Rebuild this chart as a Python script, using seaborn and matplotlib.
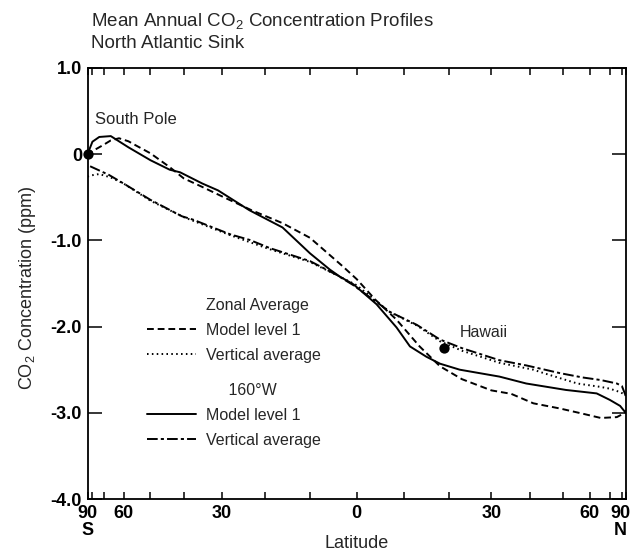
import numpy as np
import pandas as pd
import matplotlib
matplotlib.use("Agg")
import matplotlib.pyplot as plt
from matplotlib.lines import Line2D
from matplotlib.transforms import ScaledTranslation
import seaborn as sns

# ---------------- data (latitude in degrees, CO2 anomaly in ppm) ----------------
lat_zonal_lvl1 = [-90, -80, -70, -66, -62, -58, -55, -50, -44, -40, -35, -30, -23, -16,
                  -10, -3, 0, 4, 8.5, 13.5, 18, 23, 30, 35, 41, 49, 57, 65, 75, 85, 90]
val_zonal_lvl1 = [-0.02, 0.03, 0.11, 0.16, 0.185, 0.15, 0.10, 0.01, -0.15, -0.28, -0.38,
                  -0.49, -0.65, -0.80, -0.97, -1.30, -1.45, -1.69, -1.92, -2.23, -2.46,
                  -2.61, -2.74, -2.78, -2.89, -2.95, -3.01, -3.06, -3.05, -3.00, -2.97]

lat_zonal_vavg = [-90, -80, -73, -66, -60, -50, -40, -28, -19, -10, -4, 0, 7, 13, 18, 23,
                  32, 41, 44, 55, 65, 70, 78, 85, 90]
val_zonal_vavg = [-0.26, -0.245, -0.23, -0.27, -0.34, -0.54, -0.73, -0.94, -1.10, -1.25,
                  -1.41, -1.52, -1.83, -1.99, -2.17, -2.28, -2.42, -2.50, -2.54, -2.66,
                  -2.70, -2.72, -2.76, -2.79, -2.80]

lat_160w_lvl1 = [-90, -79, -73, -66, -58, -50, -44, -41, -35, -31, -23.5, -16, -10, -5.7,
                 -3.6, -0.7, 4.2, 8.5, 11.4, 15, 18, 22.5, 32, 39, 51, 63, 70, 78, 85, 90]
val_160w_lvl1 = [0.0, 0.145, 0.20, 0.21, 0.08, -0.07, -0.18, -0.21, -0.34, -0.42, -0.65,
                 -0.85, -1.15, -1.34, -1.42, -1.51, -1.74, -2.01, -2.23, -2.35, -2.43,
                 -2.50, -2.58, -2.66, -2.735, -2.775, -2.85, -2.92, -2.99, -3.00]

lat_160w_vavg = [-82, -67, -60, -50, -40.5, -37.4, -28, -23.4, -18.8, -10, -4.3, -0.7, 7.1,
                 12.9, 18, 23, 32, 39, 49, 57, 65, 75, 80, 85, 90]
val_160w_vavg = [-0.14, -0.24, -0.34, -0.53, -0.72, -0.76, -0.93, -0.995, -1.09, -1.24,
                 -1.40, -1.52, -1.83, -1.98, -2.15, -2.25, -2.39, -2.45, -2.54, -2.59,
                 -2.62, -2.66, -2.69, -2.78, -2.82]

station_names = ["South Pole", "Hawaii"]
station_lat = [-90, 19]
station_val = [0.0, -2.25]

series_names = ["Zonal model level 1", "Zonal vertical average",
                "160W model level 1", "160W vertical average"]
group_titles = ["Zonal Average", "160°W"]
legend_labels = ["Model level 1", "Vertical average", "Model level 1", "Vertical average"]

lat_major = [-90, -60, -30, 0, 30, 60, 90]
lat_major_labels = ["90\nS", "60", "30", "0", "30", "60", "90\nN"]
lat_minor = list(range(-90, 91, 10))
y_ticks = [1.0, 0.0, -1.0, -2.0, -3.0, -4.0]
y_tick_labels = ["1.0", "0", "-1.0", "-2.0", "-3.0", "-4.0"]

# ---------------- styling ----------------
sns.set_style("ticks")
plt.rcParams["font.family"] = ["Liberation Sans", "DejaVu Sans"]
plt.rcParams["mathtext.fontset"] = "custom"
plt.rcParams["mathtext.rm"] = "Liberation Sans"
plt.rcParams["mathtext.it"] = "Liberation Sans"
plt.rcParams["mathtext.bf"] = "Liberation Sans:bold"

dash_map = {
    series_names[0]: (3.5, 2.0),
    series_names[1]: (0.8, 1.7),
    series_names[2]: "",
    series_names[3]: (5.5, 1.6, 1.6, 1.6),
}

frames = []
for name, la, va in zip(series_names,
                        [lat_zonal_lvl1, lat_zonal_vavg, lat_160w_lvl1, lat_160w_vavg],
                        [val_zonal_lvl1, val_zonal_vavg, val_160w_lvl1, val_160w_vavg]):
    frames.append(pd.DataFrame({"series": name,
                                "x": np.sin(np.radians(la)),
                                "val": va}))
df = pd.concat(frames, ignore_index=True)

W, H = 634, 556
fig = plt.figure(figsize=(W / 100, H / 100), dpi=100)
L, R, T, B = 87.5, 626, 68, 499
ax = fig.add_axes([L / W, 1 - B / H, (R - L) / W, (B - T) / H])

lw = 1.4
sns.lineplot(data=df, x="x", y="val", style="series", style_order=series_names,
             dashes=dash_map, color="black", linewidth=lw, sort=False,
             estimator=None, legend=False, ax=ax)

sns.scatterplot(x=np.sin(np.radians(station_lat)), y=station_val, color="black",
                s=55, edgecolor="black", linewidth=0, zorder=5, legend=False, ax=ax)
ax.collections[-1].set_clip_on(False)

ax.text(np.sin(np.radians(-76.5)), 0.40, station_names[0], fontsize=12,
        ha="left", va="center")
ax.text(np.sin(np.radians(22.5)), -2.07, station_names[1], fontsize=11.5,
        ha="left", va="center")

ax.set_xlim(-1, 1)
ax.set_ylim(-4, 1)
ax.set_xticks(np.sin(np.radians(lat_major)))
ax.set_xticklabels(lat_major_labels)
ax.set_xticks(np.sin(np.radians(lat_minor)), minor=True)
ax.set_yticks(y_ticks)
ax.set_yticklabels(y_tick_labels)

for s in ax.spines.values():
    s.set_visible(True)
    s.set_linewidth(1.3)
    s.set_color("black")

ax.tick_params(axis="x", which="both", direction="in", length=5, width=1.1,
               top=True, bottom=True, labelsize=13, pad=4, colors="black")
ax.tick_params(axis="y", which="major", direction="in", length=10, width=1.1,
               left=True, right=True, labelsize=13, pad=4, colors="black")
xt = ax.get_xticklabels()
for t in xt:
    t.set_linespacing(1.0)
    t.set_fontweight("bold")
# nudge the rightmost label so it stays inside the figure
xt[-1].set_transform(xt[-1].get_transform() +
                     ScaledTranslation(-6 / 100, 0, fig.dpi_scale_trans))
for t in ax.get_yticklabels():
    t.set_fontweight("bold")

ax.set_xlabel("Latitude", fontsize=13)
ax.xaxis.set_label_coords(0.5, -0.083)
ax.xaxis.label.set_va("top")
ax.set_ylabel("")
fig.text(28 / W, 1 - 287.5 / H, "CO$_2$ Concentration (ppm)", rotation=90,
         fontsize=13, ha="center", va="center")

fig.text(91 / W, 1 - 21 / H, "Mean Annual CO$_2$ Concentration Profiles",
         fontsize=13.5, ha="left", va="center")
fig.text(91 / W, 1 - 43 / H, "North Atlantic Sink", fontsize=13.5,
         ha="left", va="center")

# legends: two groups, each with a header row
blank = Line2D([], [], color="none")
h_zonal = [blank,
           Line2D([], [], color="black", lw=lw, dashes=dash_map[series_names[0]]),
           Line2D([], [], color="black", lw=lw, dashes=dash_map[series_names[1]])]
h_160w = [blank,
          Line2D([], [], color="black", lw=lw, linestyle="-"),
          Line2D([], [], color="black", lw=lw, dashes=dash_map[series_names[3]])]
common = dict(loc="upper left", frameon=False, fontsize=11.5, handlelength=3.05,
              handletextpad=0.63, labelspacing=0.62, borderpad=0, borderaxespad=0)
leg1 = ax.legend(h_zonal, [group_titles[0], legend_labels[0], legend_labels[1]],
                 bbox_to_anchor=((147 - L) / (R - L), (B - 298) / (B - T)), **common)
ax.add_artist(leg1)
leg2 = ax.legend(h_160w, ["     " + group_titles[1], legend_labels[2], legend_labels[3]],
                 bbox_to_anchor=((147 - L) / (R - L), (B - 383) / (B - T)), **common)

fig.savefig("out.png", dpi=100)
